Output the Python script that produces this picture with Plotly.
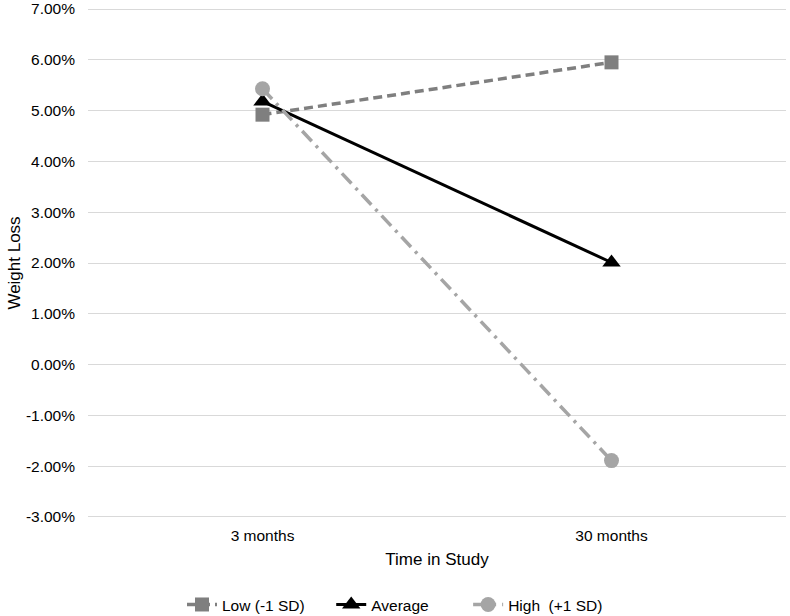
import plotly.graph_objects as go

categories = ['3 months', '30 months']
low = [0.0492, 0.0595]
average = [0.0518, 0.0201]
high = [0.0543, -0.0189]
y_ticks = [-0.03, -0.02, -0.01, 0.0, 0.01, 0.02, 0.03, 0.04, 0.05, 0.06, 0.07]
y_tick_labels = ['%.2f%%' % (v * 100) for v in y_ticks]

fig = go.Figure()

# trailing spaces widen the legend entries like the original
fig.add_trace(go.Scatter(x=categories, y=low, name='Low (-1 SD)     ', mode='lines+markers',
                         line=dict(color='#7f7f7f', width=3.5, dash='9px,5px'),
                         marker=dict(symbol='square', size=14, color='#7f7f7f')))
fig.add_trace(go.Scatter(x=categories, y=average, name='Average        ', mode='lines+markers',
                         line=dict(color='#000000', width=3),
                         marker=dict(symbol='triangle-up', size=16, color='#000000')))
fig.add_trace(go.Scatter(x=categories, y=high, name='High  (+1 SD)', mode='lines+markers',
                         line=dict(color='#a5a5a5', width=3.5, dash='14px,6px,3px,6px'),
                         marker=dict(symbol='circle', size=15, color='#a5a5a5')))

fig.update_layout(
    width=790, height=616,
    margin=dict(l=88, r=4, t=8, b=98),
    plot_bgcolor='white', paper_bgcolor='white',
    font=dict(family='Liberation Sans, Arial, sans-serif', size=15.5, color='#000000'),
    legend=dict(orientation='h', xref='container', x=0.5, xanchor='center',
                yref='container', y=0.018, yanchor='middle', font=dict(size=15.5)),
)

fig.update_xaxes(type='category', range=[-0.5, 1.5], showgrid=False, showline=False,
                 ticks='', automargin=False, ticklabelstandoff=6,
                 title=dict(text='Time in Study', standoff=10, font=dict(size=17)))
# range padded a hair so the top and bottom gridlines are not clipped
fig.update_yaxes(range=[-0.0302, 0.0702], tickvals=y_ticks, ticktext=y_tick_labels,
                 showgrid=True, gridcolor='#d9d9d9', gridwidth=1, zeroline=False,
                 showline=False, ticks='', automargin=False, ticklabelstandoff=12,
                 ticklabeloverflow='allow',
                 title=dict(text='Weight Loss', standoff=0, font=dict(size=17)))

# drop the browser's default 8px body margin so the figure sits at the page corner
fig.write_html('out.html', config={'displayModeBar': False},
               post_script="document.body.style.margin='0';")
